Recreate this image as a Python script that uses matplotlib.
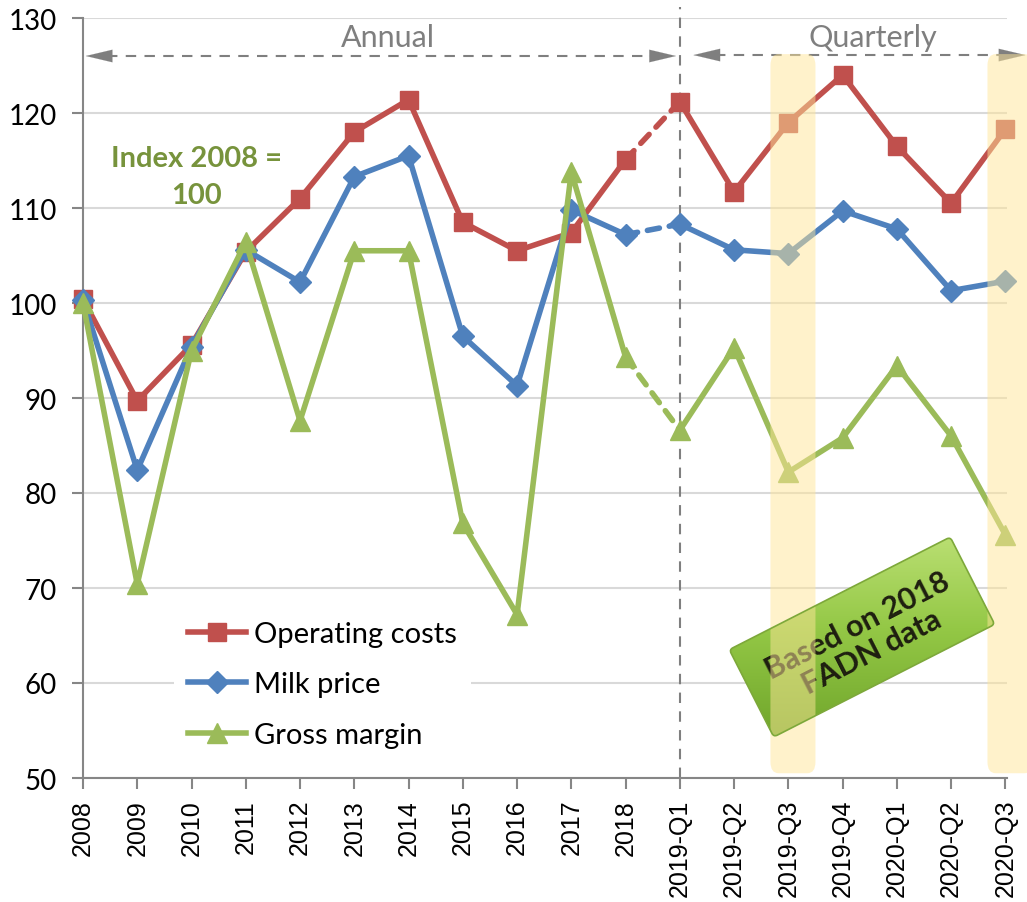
import numpy as np
import matplotlib.pyplot as plt
import matplotlib.transforms as mtransforms
from matplotlib.patches import FancyBboxPatch
from matplotlib.colors import LinearSegmentedColormap

plt.rcParams['font.family'] = ['Lato', 'DejaVu Sans']

periods = ['2008', '2009', '2010', '2011', '2012', '2013', '2014', '2015', '2016',
           '2017', '2018', '2019-Q1', '2019-Q2', '2019-Q3', '2019-Q4',
           '2020-Q1', '2020-Q2', '2020-Q3']
operating_costs = [100.4, 89.7, 95.6, 105.4, 111.0, 118.0, 121.4, 108.5, 105.5,
                   107.4, 115.1, 121.2, 111.7, 119.0, 124.0, 116.5, 110.5, 118.3]
milk_price = [100.3, 82.4, 95.4, 105.6, 102.2, 113.3, 115.5, 96.5, 91.3,
              109.8, 107.2, 108.3, 105.6, 105.2, 109.7, 107.8, 101.3, 102.3]
gross_margin = [100.0, 70.4, 95.0, 106.4, 87.6, 105.5, 105.5, 76.8, 67.2,
                113.8, 94.3, 86.6, 95.3, 82.2, 85.8, 93.4, 86.0, 75.6]
highlight = ['2019-Q3', '2020-Q3']

series = [
    ('Operating costs', operating_costs, '#C0504D', 's', 13),
    ('Milk price', milk_price, '#4F81BD', 'D', 11),
    ('Gross margin', gross_margin, '#9BBB59', '^', 14),
]

fig = plt.figure(figsize=(10.27, 9.03), dpi=100)
ax = fig.add_axes([83 / 1027, 1 - 779 / 903, 924 / 1027, 760 / 903])

x = np.arange(len(periods))
split = periods.index('2018')  # annual ends here, quarterly starts after

for name, vals, col, mk, ms in series:
    v = np.array(vals)
    ax.plot(x[:split + 1], v[:split + 1], color=col, lw=4, marker=mk, ms=ms,
            label=name, zorder=4, clip_on=False, solid_joinstyle='round')
    ax.plot(x[split:split + 2], v[split:split + 2], color=col, lw=4,
            ls=(0, (2.2, 1.8)), dash_capstyle='round', zorder=3)
    ax.plot(x[split + 1:], v[split + 1:], color=col, lw=4, marker=mk, ms=ms,
            zorder=4, clip_on=False, solid_joinstyle='round')

ax.set_xticks(x)
ax.set_xticklabels(periods, rotation=90, family='Liberation Sans', fontsize=18)
ax.set_yticks(range(50, 131, 10))
ax.tick_params(axis='y', labelsize=20, length=8, width=1.5, color='#868686', pad=11)
ax.tick_params(axis='x', length=8, width=1.5, color='#868686', pad=7)
for s in ['top', 'right']:
    ax.spines[s].set_visible(False)
for s in ['left', 'bottom']:
    ax.spines[s].set_color('#868686')
    ax.spines[s].set_linewidth(1.5)
ax.grid(axis='y', color='#D9D9D9', lw=1.5, zorder=0)
ax.set_axisbelow(True)

# boundary between annual and quarterly data
q1 = periods.index('2019-Q1')
ax.axvline(q1, ymax=1.015, color='#7F7F7F', lw=1.5, ls=(0, (5, 4)), zorder=2,
           clip_on=False)

# annual / quarterly arrows
def dashed_arrow(x0, x1, y):
    ax.plot([x0 + 0.4, x1 - 0.4], [y, y], color='#7F7F7F', lw=1.5,
            ls=(0, (5, 4)), clip_on=False, zorder=5)
    for a, b in [(x0, x0 + 0.5), (x1, x1 - 0.5)]:
        ax.annotate('', xy=(a, y), xytext=(b, y), annotation_clip=False,
                    arrowprops=dict(arrowstyle='-|>,head_length=1.9,head_width=0.45',
                                    color='#7F7F7F', lw=0.1, shrinkA=0, shrinkB=0))

dashed_arrow(0.05, 10.93, 126.0)
dashed_arrow(11.25, 17.37, 126.1)
ax.text(5.62, 128.0, 'Annual', ha='center', va='center', fontsize=22, color='#7F7F7F')
ax.text(14.55, 128.0, 'Quarterly', ha='center', va='center', fontsize=22, color='#7F7F7F')

ax.text(2.1, 113.3, 'Index 2008 =\n100', ha='center', va='center', fontsize=21,
        fontweight='bold', color='#77933C', linespacing=1.5)

# green rotated note box with a soft gradient
cx, cy = 8.62, 2.65
rot = mtransforms.Affine2D().rotate_deg_around(cx, cy, 27) + fig.dpi_scale_trans
box = FancyBboxPatch((cx - 1.24, cy - 0.49), 2.48, 0.98,
                     boxstyle='round,pad=0,rounding_size=0.04',
                     fc='none', ec='#7DA83A', lw=1.2, transform=rot, zorder=6.5)
fig.patches.append(box)
green = LinearSegmentedColormap.from_list('g', ['#6FA52A', '#94C846', '#C2E47C'])
grad = np.linspace(0, 1, 200).reshape(-1, 1)
im = ax.imshow(grad, cmap=green, origin='lower', aspect='auto',
               extent=(11.7, 17.1, 54.0, 77.5), zorder=6, clip_on=True)
im.set_clip_path(box)
ax.text(14.4, 64.7, 'Based on 2018\nFADN data', ha='center', va='center',
        rotation=27, rotation_mode='anchor', fontsize=22, fontweight='bold',
        color='#1E1E10', linespacing=1.1, zorder=7)

ax.set_xlim(0, 17.03)
ax.set_ylim(50, 130)

# highlighted quarters
for h in highlight:
    i = periods.index(h)
    band = FancyBboxPatch((i - 0.33, 50.5), 0.83, 75.7,
                          boxstyle='round,pad=0,rounding_size=0.15',
                          fc='#FFE699', ec='none', alpha=0.5, zorder=8,
                          clip_on=False, mutation_aspect=8)
    ax.add_patch(band)

leg = ax.legend(loc='upper left', bbox_to_anchor=(0.098, 0.226), fontsize=21,
                frameon=True, facecolor='white', edgecolor='none', framealpha=1,
                handlelength=2.0, handletextpad=0.25, labelspacing=0.84,
                borderpad=0.5, borderaxespad=0, fancybox=False)
leg.set_zorder(5)

fig.savefig('out.png', dpi=100)
